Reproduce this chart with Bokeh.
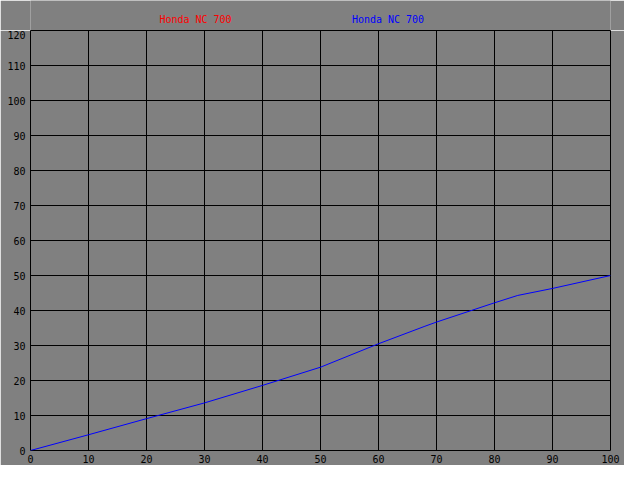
from bokeh.plotting import figure
from bokeh.models import FixedTicker, Range1d
from bokeh.layouts import column
from bokeh.core.properties import value
from bokeh.embed import file_html
from bokeh.resources import INLINE

# Data
x_vals = [0, 10, 20, 22, 30, 40, 50, 60, 68, 70, 80, 84, 90, 100]
y_vals = [0, 4.5, 9.1, 10.0, 13.6, 18.6, 23.8, 30.5, 35.5, 36.7, 42.2, 44.3, 46.3, 50.0]
series_names = ["Honda NC 700", "Honda NC 700"]
series_colors = ["#ff0000", "#0000ff"]
x_ticks = list(range(0, 101, 10))
y_ticks = list(range(0, 121, 10))

BG = "#808080"
FONT = "DejaVu Sans Mono"

x_range = Range1d(0, 100)

# Legend strip above the chart (shares the chart's x scale)
top = figure(frame_width=580, frame_height=30, output_backend="svg",
             toolbar_location=None, x_range=x_range, y_range=Range1d(0, 30),
             x_axis_location=None, y_axis_location=None,
             background_fill_color=BG, border_fill_color=BG, min_border=0,
             min_border_left=30, min_border_right=14)
top.outline_line_color = None
top.xgrid.visible = False
top.ygrid.visible = False
legend_x = [28.45, 61.64]
legend_y = [11, 11]
top.text(x=legend_x, y=legend_y, text=series_names, text_color=series_colors,
         text_font=value(FONT), text_font_size="10px",
         text_align="center", text_baseline="middle")

p = figure(frame_width=580, frame_height=420, output_backend="svg",
           toolbar_location=None, x_range=x_range, y_range=Range1d(0, 120),
           background_fill_color=BG, border_fill_color=BG,
           min_border_left=30, min_border_right=14, min_border_top=0, min_border_bottom=14)
p.outline_line_color = "black"
p.outline_line_width = 1

for ax, ticks in ((p.xaxis, x_ticks), (p.yaxis, y_ticks)):
    ax.ticker = FixedTicker(ticks=ticks)
    ax.axis_line_color = None
    ax.major_tick_line_color = None
    ax.minor_tick_line_color = None
    ax.major_tick_out = 0
    ax.major_tick_in = 0
    ax.minor_tick_out = 0
    ax.major_label_text_font = FONT
    ax.major_label_text_font_size = "10px"
    ax.major_label_text_color = "black"
p.xaxis.major_label_standoff = 4
p.yaxis.major_label_standoff = 5

for g in (p.xgrid, p.ygrid):
    g.grid_line_color = "black"
    g.grid_line_width = 1
    g.grid_line_alpha = 1.0
p.xgrid.ticker = FixedTicker(ticks=x_ticks)
p.ygrid.ticker = FixedTicker(ticks=y_ticks)

p.line(x_vals, y_vals, line_color=series_colors[1], line_width=1)

layout = column(top, p, spacing=0)
open("out.html", "w").write(file_html(layout, INLINE))
